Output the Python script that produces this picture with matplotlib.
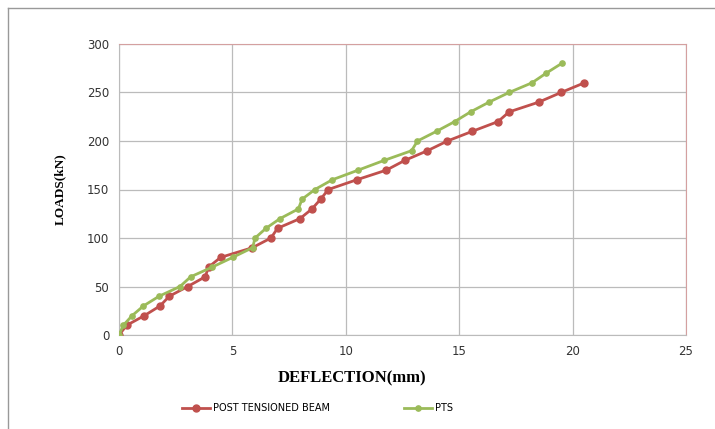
import numpy as np
import matplotlib as mpl
mpl.use('Agg')
import matplotlib.pyplot as plt
from matplotlib.lines import Line2D

mpl.rcParams['font.family'] = 'DejaVu Sans'
mpl.rcParams['font.size'] = 8.5

# post tensioned beam
ptb_defl = [0.0, 0.34, 1.12, 1.81, 2.22, 3.03, 3.80, 3.95, 4.48, 5.88, 6.70, 6.99,
            7.98, 8.51, 8.89, 9.23, 10.48, 11.79, 12.60, 13.60, 14.48, 15.58,
            16.71, 17.20, 18.50, 19.49, 20.52]
ptb_load = [0, 10, 20, 30, 40, 50, 60, 70, 80, 90, 100, 110, 120, 130, 140, 150,
            160, 170, 180, 190, 200, 210, 220, 230, 240, 250, 260]

# PTS
pts_defl = [0.0, 0.19, 0.58, 1.08, 1.77, 2.69, 3.16, 4.11, 5.01, 5.89, 6.00, 6.48,
            7.10, 7.91, 8.07, 8.64, 9.40, 10.55, 11.69, 12.90, 13.16, 14.00, 14.80,
            15.50, 16.31, 17.20, 18.21, 18.84, 19.52]
pts_load = [0, 10, 20, 30, 40, 50, 60, 70, 80, 90, 100, 110, 120, 130, 140, 150,
            160, 170, 180, 190, 200, 210, 220, 230, 240, 250, 260, 270, 280]

red = '#C0504D'
green = '#9BBB59'

fig = plt.figure(figsize=(7.15, 4.29), dpi=100)
ax = fig.add_axes([119/715, 1-335/429, (686-119)/715, (335-44)/429])

ax.plot(ptb_defl, ptb_load, '-o', color=red, lw=2, ms=5, zorder=3)
ax.plot(pts_defl, pts_load, '-o', color=green, lw=2, ms=3.8, zorder=4)

ax.set_xlim(0, 25)
ax.set_ylim(0, 300)
ax.set_xticks(np.arange(0, 26, 5))
ax.set_yticks(np.arange(0, 301, 50))
ax.grid(True, color='#BBBBBB', lw=0.9)
ax.set_axisbelow(True)
ax.tick_params(length=0, pad=7, colors='#333333', labelsize=8.5)
for s in ['left', 'bottom']:
    ax.spines[s].set_color('#BBBBBB')
for s in ['top', 'right']:
    ax.spines[s].set_color('#D4A0A0')

ax.set_xlabel('DEFLECTION(mm)', fontfamily='Liberation Serif', fontweight='bold',
              fontsize=12)
ax.xaxis.set_label_coords(0.411, -0.122)
ax.set_ylabel('LOADS(kN)', fontfamily='Liberation Serif', fontweight='bold',
              fontsize=9.5, labelpad=15)

handles = [Line2D([], [], color=red, lw=2, marker='o', ms=5),
           Line2D([], [], color=green, lw=2, marker='o', ms=3.8)]
fig.legend(handles, ['POST TENSIONED BEAM', 'PTS'], loc='center',
           bbox_to_anchor=(0.444, 1-408/429), ncol=2, frameon=False,
           columnspacing=7.7, handlelength=2.8, handletextpad=0.3, fontsize=7)

# outer frame (left and top only, as cropped)
fig.add_artist(Line2D([8/715, 8/715], [0, 1-8/429], color='#999999', lw=1))
fig.add_artist(Line2D([8/715, 1], [1-8/429, 1-8/429], color='#999999', lw=1))

fig.savefig('out.png', dpi=100)
